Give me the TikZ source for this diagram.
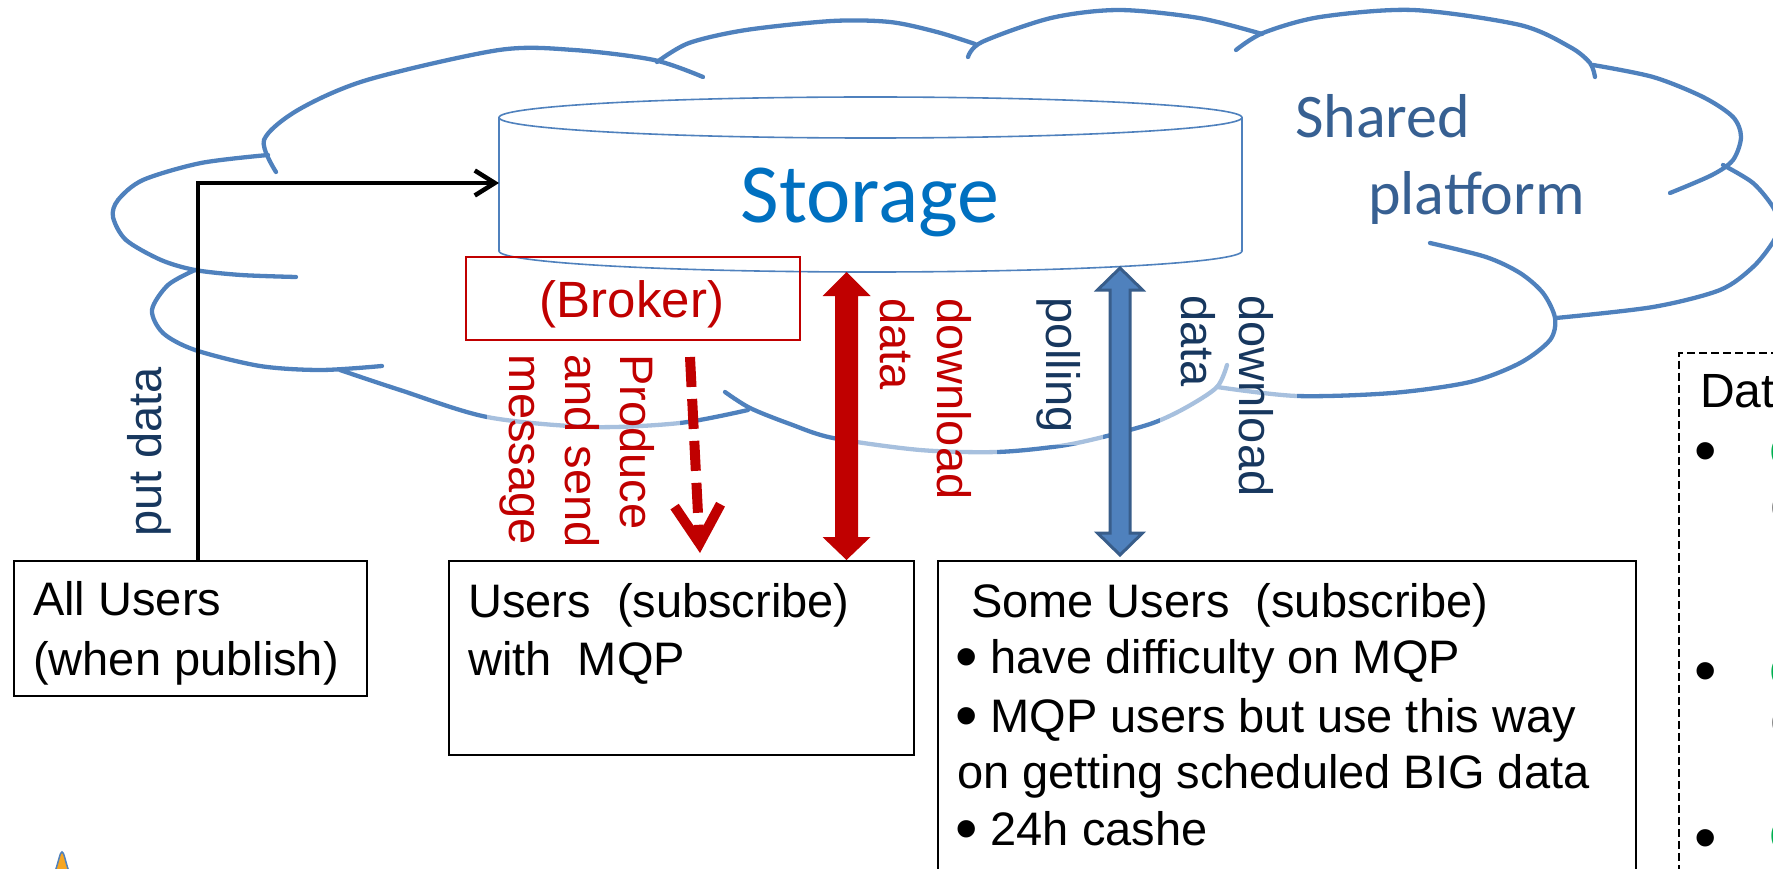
\documentclass[tikz,border=0pt]{standalone}
\usepackage{fontspec}
\setmainfont{Liberation Sans}
\newfontfamily\calfont{Carlito}
\usetikzlibrary{arrows.meta,calc}
\definecolor{cloudblue}{HTML}{4F81BD}
\definecolor{darkred}{HTML}{C00000}
\definecolor{navy}{HTML}{17375E}
\definecolor{storeblue}{HTML}{0070C0}
\definecolor{sharedblue}{HTML}{376092}
\definecolor{arrowedge}{HTML}{385D8A}
\definecolor{greentxt}{HTML}{00B050}
\definecolor{greytxt}{HTML}{404040}
\definecolor{iconfill}{HTML}{F6A623}
\newcommand{\bigbul}{\raisebox{-5pt}{\fontsize{64}{57}\selectfont •}}
\begin{document}
\begin{tikzpicture}[x=1pt,y=-1pt,
  cloudline/.style={draw=cloudblue,line width=4.3pt,line cap=round},
  cyl/.style={draw=cloudblue,line width=1.6pt},
  fadebox/.style={fill=white,opacity=0.5},
  txt/.style={anchor=base west,inner sep=0pt,font=\fontsize{47}{57}\selectfont},
  ubox/.style={draw=black,line width=2pt,fill=white,anchor=north west,inner sep=0pt},
]
\useasboundingbox (0,0) rectangle (1773,869);
\clip (0,0) rectangle (1773,869);

% ---------- cloud ----------
\draw[cloudline] plot[smooth] coordinates {(276,172) (264,140) (298,110) (367,80) (499,50) (574,50) (654,60) (703,77)};
\draw[cloudline] plot[smooth] coordinates {(657,62) (689,43) (746,30) (832,21) (890,22) (937,32) (975,44)};
\draw[cloudline] plot[smooth] coordinates {(968,57) (982,42) (1051,18) (1119,10) (1199,18) (1262,34)};
\draw[cloudline] plot[smooth] coordinates {(1236,50) (1263,33) (1320,17) (1413,10) (1520,25) (1570,47) (1590,63) (1595,77)};
\draw[cloudline] plot[smooth] coordinates {(1593,65) (1653,77) (1703,97) (1733,117) (1741,137) (1733,160) (1712,175) (1670,193)};
\draw[cloudline] plot[smooth] coordinates {(1723,165) (1753,183) (1773,207) (1779,225) (1773,242) (1753,267) (1720,290) (1653,307) (1556,318)};
\draw[cloudline] plot[smooth] coordinates {(1430,243) (1486,257) (1520,273) (1543,293) (1555,318) (1550,340) (1520,363) (1470,382) (1392,393) (1297,396) (1217,387)};
\draw[cloudline] plot[smooth] coordinates {(725,392) (750,408) (790,424) (833,438) (920,450) (997,452) (1060,446) (1103,437) (1153,423) (1187,407) (1217,387) (1227,365)};
\draw[cloudline] plot[smooth] coordinates {(340,370) (400,390) (487,417) (590,427) (680,423) (748,410)};
\draw[cloudline] plot[smooth] coordinates {(195,270) (168,285) (152,310) (163,333) (195,350) (260,366) (321,370) (382,366)};
\draw[cloudline] plot[smooth] coordinates {(268,155) (201,163) (143,180) (118,200) (113,217) (126,240) (161,260) (195,270) (241,275) (296,277)};

% translucent label backgrounds that lighten the cloud line
\fill[fadebox] (487,345) rectangle (680,555);
\fill[fadebox] (858,290) rectangle (997,510);
\fill[fadebox] (1023,288) rectangle (1103,445);
\fill[fadebox] (1160,285) rectangle (1297,505);

% ---------- storage cylinder ----------
\fill[white] (499,117.5) rectangle (1242,251);
\begin{scope}
  \clip (480,251) rectangle (1260,300);
  \draw[cyl,fill=white] (870.5,251) ellipse [x radius=371.5, y radius=21];
\end{scope}
\draw[cyl] (499,117.5) -- (499,251) (1242,117.5) -- (1242,251);
\draw[cyl,fill=white] (870.5,117.5) ellipse [x radius=371.5, y radius=20.5];
\coordinate (cylleft) at (499,183);
\node[anchor=base,inner sep=0pt,text=storeblue,font=\calfont\fontsize{84}{100}\selectfont] (storage) at (870,223) {Storage};

\node[anchor=base west,inner sep=0pt,text=sharedblue,font=\calfont\fontsize{62}{75}\selectfont] (shared1) at (1295,138) {Shared};
\node[anchor=base west,inner sep=0pt,text=sharedblue,font=\calfont\fontsize{62}{75}\selectfont] (shared2) at (1368,215) {platform};

% ---------- broker ----------
\node[draw=darkred,line width=2pt,anchor=north west,inner sep=0pt,minimum width=334pt,minimum height=83pt] (broker) at (465,256) {};
\node[anchor=base,inner sep=0pt,text=darkred,font=\fontsize{51}{60}\selectfont] (brokertxt) at (632,317) {(Broker)};

% ---------- user boxes ----------
\node[ubox,minimum width=353pt,minimum height=135pt] (allusers) at (13,560) {};
\node[txt] (all1) at (33,615) {All Users};
\node[txt] (all2) at (33,675) {(when publish)};

\node[ubox,minimum width=465pt,minimum height=194pt] (usersmqp) at (448,560) {};
\node[txt] (mqp1) at (468,617) {Users~~(subscribe)};
\node[txt] (mqp2) at (468,675) {with~~MQP};

\node[ubox,minimum width=698pt,minimum height=340pt] (someusers) at (937,560) {};
\node[txt] (some1) at (971,617) {Some Users~~(subscribe)};
\node[txt] (some2) at (955,673) {\bigbul\ have difficulty on MQP};
\node[txt] (some3) at (955,732) {\bigbul\ MQP users but use this way};
\node[txt] (some4) at (957,788) {on getting scheduled BIG data};
\node[txt] (some5) at (955,845) {\bigbul\ 24h cashe};

% ---------- legend box (cut off) ----------
\node[draw=black,line width=1.5pt,dash pattern=on 8pt off 4pt,anchor=north west,inner sep=0pt,minimum width=200pt,minimum height=600pt] (legend) at (1678,352) {};
\node[anchor=base west,inner sep=0pt,font=\fontsize{48}{57}\selectfont] (legtitle) at (1700,407) {Dat};
\node[txt] (lb1) at (1694,467) {\bigbul};
\node[txt] (lb2) at (1694,687) {\bigbul};
\node[txt] (lb3) at (1694,854) {\bigbul};
\node[txt,text=greentxt] (lg1) at (1769,468) {C};
\node[txt,text=greytxt] (lk1) at (1770,524) {C};
\node[txt,text=greentxt] (lg2) at (1769,688) {C};
\node[txt,text=greytxt] (lk2) at (1770,739) {C};
\node[txt,text=greentxt] (lg3) at (1769,852) {C};

% ---------- connectors ----------
\coordinate (putx) at (198,183);
\draw[black,line width=4.5pt,-{Straight Barb[length=20pt,width=25pt]}] (allusers.north -| putx) |- (cylleft);

\coordinate (rtop) at (846.5,272);
\coordinate (rbot) at (usersmqp.north -| rtop);
\fill[darkred] (rtop) -- ($(rtop)+(24,24)$) -- ($(rtop)+(11.5,24)$) -- ($(rbot)+(11.5,-23)$) -- ($(rbot)+(24,-23)$) -- (rbot)
  -- ($(rbot)+(-24,-23)$) -- ($(rbot)+(-11.5,-23)$) -- ($(rtop)+(-11.5,24)$) -- ($(rtop)+(-24,24)$) -- cycle;

\coordinate (btop) at (1120,268);
\coordinate (bbot) at ($(someusers.north -| btop)+(0,-5)$);
\draw[draw=arrowedge,fill=cloudblue,line width=3pt,line join=miter] (btop) -- ($(btop)+(22.5,22)$) -- ($(btop)+(10,22)$) -- ($(bbot)+(10,-22)$) -- ($(bbot)+(22.5,-22)$) -- (bbot)
  -- ($(bbot)+(-22.5,-22)$) -- ($(bbot)+(-10,-22)$) -- ($(btop)+(-10,22)$) -- ($(btop)+(-22.5,22)$) -- cycle;

\coordinate (dtop) at (690,357);
\coordinate (dbot) at (700,553);
\draw[darkred,line width=10pt,dash pattern=on 30pt off 12pt,-{Straight Barb[length=38pt,width=46pt]}] (dtop) -- (dbot);

% ---------- rotated labels ----------
\node[txt,text=navy,rotate=90] (putdata) at (161,537) {put data};
\node[txt,text=darkred,rotate=-90] (prod1) at (620,354) {Produce};
\node[txt,text=darkred,rotate=-90] (prod2) at (565,354) {and send};
\node[txt,text=darkred,rotate=-90] (prod3) at (509,354) {message};
\node[txt,text=darkred,rotate=-90] (rdl1) at (937,298) {download};
\node[txt,text=darkred,rotate=-90] (rdl2) at (880,298) {data};
\node[txt,text=navy,rotate=-90] (poll) at (1046,297) {polling};
\node[txt,text=navy,rotate=-90] (bdl1) at (1239,295) {download};
\node[txt,text=navy,rotate=-90] (bdl2) at (1181,295) {data};

% ---------- small icon at bottom left ----------
\draw[cloudblue,fill=iconfill,line width=1.5pt] (55,872) .. controls (59,860) and (60,852) .. (62,852) .. controls (64,852) and (65,860) .. (69,872);
\end{tikzpicture}
\end{document}
